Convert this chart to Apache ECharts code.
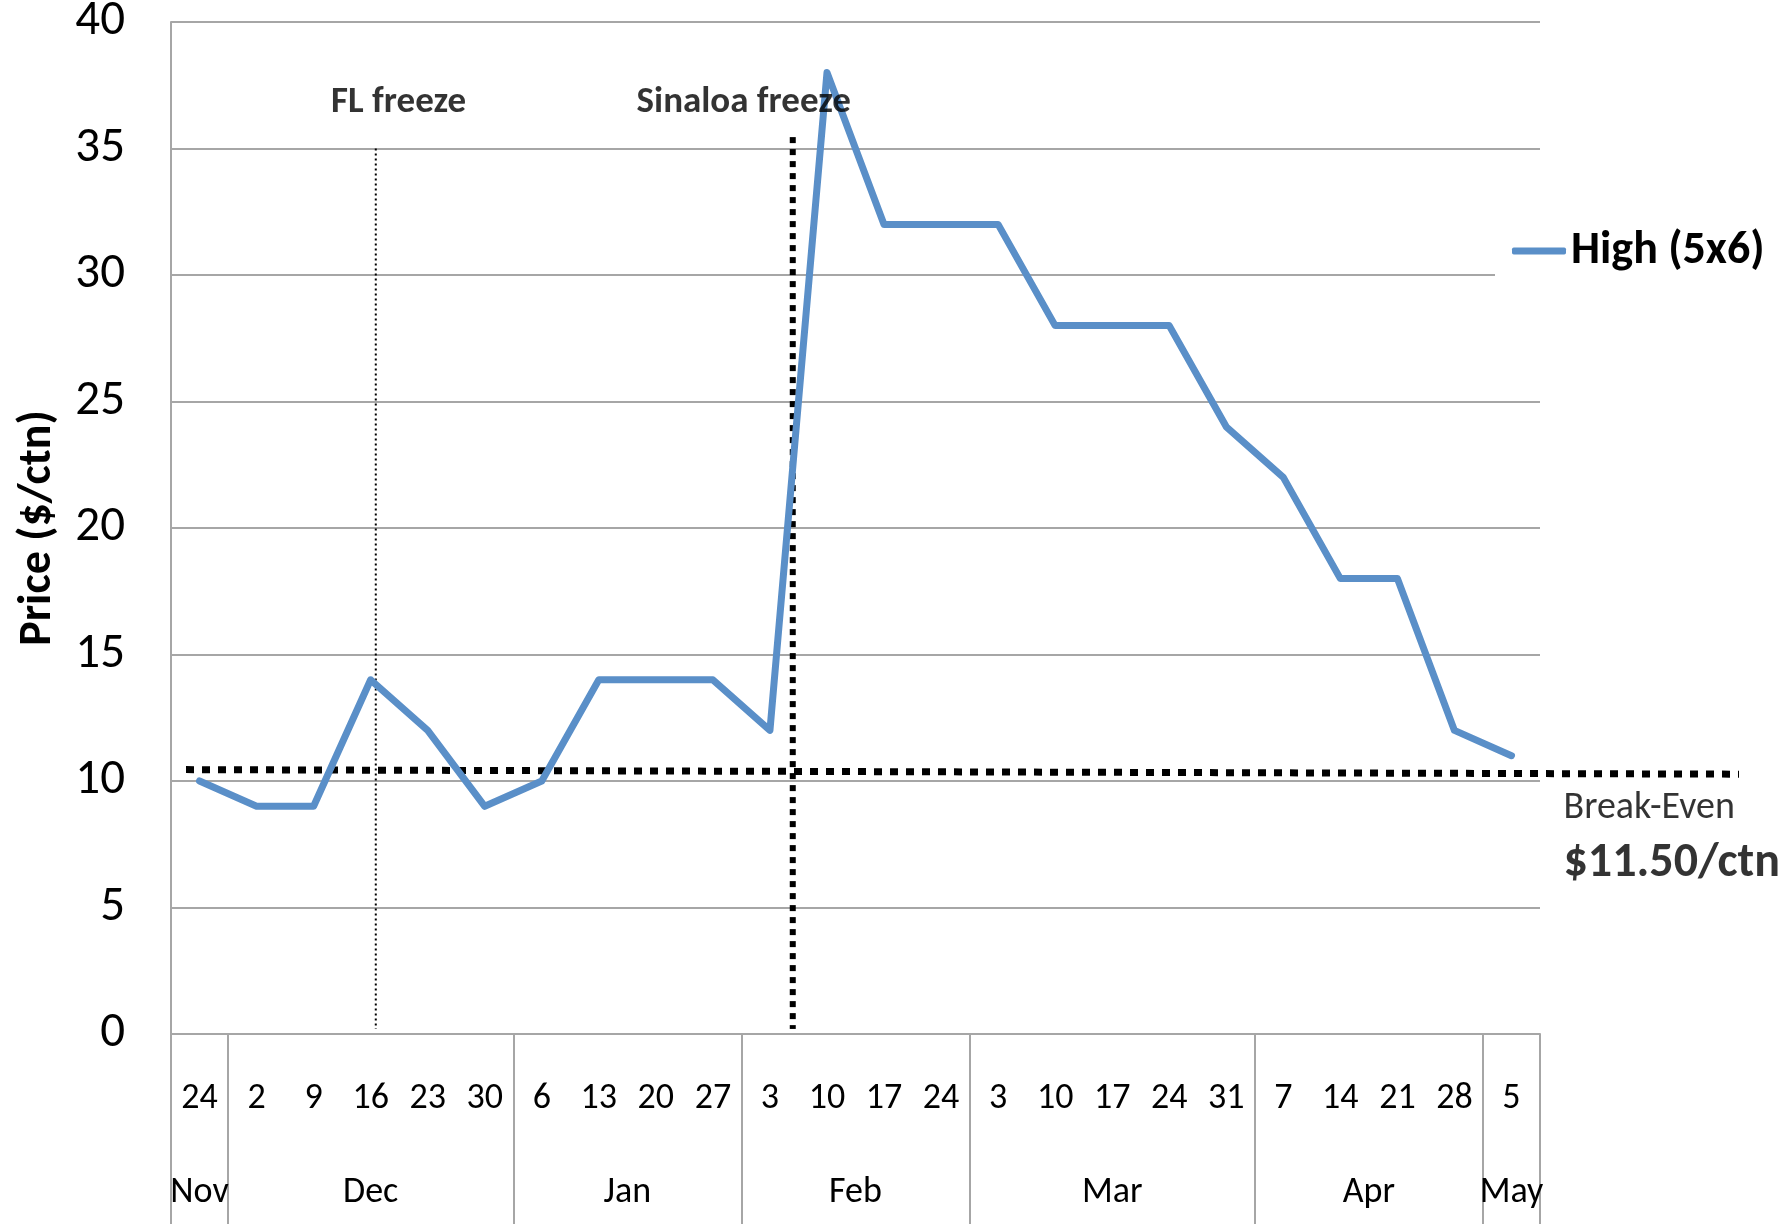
<!DOCTYPE html>
<html><head><meta charset="utf-8">
<script src="https://cdn.jsdelivr.net/npm/echarts@6/dist/echarts.min.js"></script>
<style>html,body{margin:0;padding:0;background:#fff}#c{width:1786px;height:1224px}</style>
</head><body><div id="c"></div>
<script>
// ---- data ----
const days = ['24','2','9','16','23','30','6','13','20','27','3','10','17','24','3','10','17','24','31','7','14','21','28','5'];
const months = ['Nov','Dec','Jan','Feb','Mar','Apr','May'];
const monthWeeks = [1,5,4,4,5,4,1];
const highPrices = [10,9,9,14,12,9,10,14,14,14,12,38,32,32,32,28,28,28,24,22,18,18,12,11];
const yTicks = [0,40,5]; // min, max, step
const breakEvenLine = [[0,10.45],[1,10.27]];
const flFreezeLine = [[3.09,35],[3.09,0.2]];
const sinaloaFreezeLine = [[10.4,35.45],[10.4,0.2]];
const eventNames = ['FL freeze','Sinaloa freeze'];
const eventPos = [[3.49,36.8],[9.54,36.8]];
const breakEvenNames = ['Break-Even','$11.50/ctn'];
const breakEvenPos = [[0.887,8.9],[0.887,6.72]];

// ---- derived ----
const bounds = [-0.5], centers = [];
let acc = -0.5;
monthWeeks.forEach(n => { centers.push(acc + n / 2); acc += n; bounds.push(acc); });

const FF = 'Carlito, Lato, "Open Sans", sans-serif';
const GRID = '#a6a6a6';
const chart = echarts.init(document.getElementById('c'));
chart.setOption({
  animation: false,
  backgroundColor: '#fff',
  textStyle: { fontFamily: FF, color: '#000' },
  grid: [
    { left: 171, right: 246, top: 22, bottom: 190, containLabel: false, outerBoundsMode: 'none' },
    { left: 186, right: 47, top: 22, bottom: 190, containLabel: false, outerBoundsMode: 'none' }
  ],
  legend: {
    data: ['High (5x6)'], left: 1495, top: 220, padding: [8, 10, 8, 17],
    backgroundColor: '#fff', icon: 'roundRect', itemWidth: 54, itemHeight: 7,
    textStyle: { fontFamily: FF, fontSize: 46, fontWeight: 'bold', color: '#000' }
  },
  xAxis: [
    { type: 'category', gridIndex: 0, data: days, boundaryGap: true,
      axisLine: { show: true, onZero: false, lineStyle: { color: GRID, width: 2 } },
      axisTick: { show: false },
      axisLabel: { interval: 0, margin: 47, fontSize: 36, color: '#000', fontFamily: FF },
      splitLine: { show: false } },
    { type: 'value', gridIndex: 0, min: -0.5, max: 23.5, position: 'bottom',
      axisLine: { show: false, onZero: false },
      axisTick: { show: true, customValues: bounds, length: 190, lineStyle: { color: GRID, width: 2 } },
      axisLabel: { customValues: centers, margin: 141, fontSize: 36, color: '#000', fontFamily: FF,
        formatter: v => { const i = centers.findIndex(c => Math.abs(c - v) < 1e-6); return i >= 0 ? months[i] : ''; } },
      splitLine: { show: false } },
    { type: 'value', gridIndex: 1, min: 0, max: 1, show: false }
  ],
  yAxis: [
    { type: 'value', gridIndex: 0, min: yTicks[0], max: yTicks[1], interval: yTicks[2],
      axisLine: { show: true, onZero: false, lineStyle: { color: GRID, width: 2 } },
      axisTick: { show: false },
      axisLabel: { fontSize: 49, color: '#000', margin: 46, fontFamily: FF, padding: [10, 0, 0, 0] },
      splitLine: { show: true, lineStyle: { color: GRID, width: 2 } },
      name: 'Price ($/ctn)', nameLocation: 'middle', nameGap: 110,
      nameTextStyle: { fontSize: 46, fontWeight: 'bold', color: '#000', fontFamily: FF } },
    { type: 'value', gridIndex: 1, min: yTicks[0], max: yTicks[1], show: false }
  ],
  series: [
    { name: 'Break-even', type: 'line', xAxisIndex: 2, yAxisIndex: 1, data: breakEvenLine,
      symbol: 'none', silent: true, z: 2,
      lineStyle: { color: '#000', width: 7, type: [8, 8], cap: 'butt' } },
    { name: 'FL', type: 'line', xAxisIndex: 1, yAxisIndex: 0, data: flFreezeLine,
      symbol: 'none', silent: true, z: 2,
      lineStyle: { color: '#000', width: 2, type: [2, 3] } },
    { name: 'Sinaloa', type: 'line', xAxisIndex: 1, yAxisIndex: 0, data: sinaloaFreezeLine,
      symbol: 'none', silent: true, z: 2,
      lineStyle: { color: '#000', width: 6, type: [6, 6] } },
    { name: 'High (5x6)', type: 'line', xAxisIndex: 0, yAxisIndex: 0, data: highPrices,
      symbol: 'none', showSymbol: false, z: 3, color: '#5a8fc8',
      lineStyle: { color: '#5a8fc8', width: 7, cap: 'round', join: 'round' } },
    { name: 'events', type: 'scatter', xAxisIndex: 1, yAxisIndex: 0, symbolSize: 0, z: 4,
      data: eventNames.map((n, i) => ({ name: n, value: eventPos[i] })),
      label: { show: true, position: 'inside', formatter: '{b}', fontSize: 37, fontWeight: 'bold', color: '#000', fontFamily: FF } },
    { name: 'beText', type: 'scatter', xAxisIndex: 2, yAxisIndex: 1, symbolSize: 0, z: 4,
      data: breakEvenNames.map((n, i) => ({ name: n, value: breakEvenPos[i],
        label: i === 0 ? { fontSize: 38, fontWeight: 'normal', color: '#000' } : { fontSize: 48, fontWeight: 'bold', color: '#000' } })),
      label: { show: true, position: 'right', distance: 0, formatter: '{b}', color: '#000', fontFamily: FF } }
  ]
});
</script></body></html>
